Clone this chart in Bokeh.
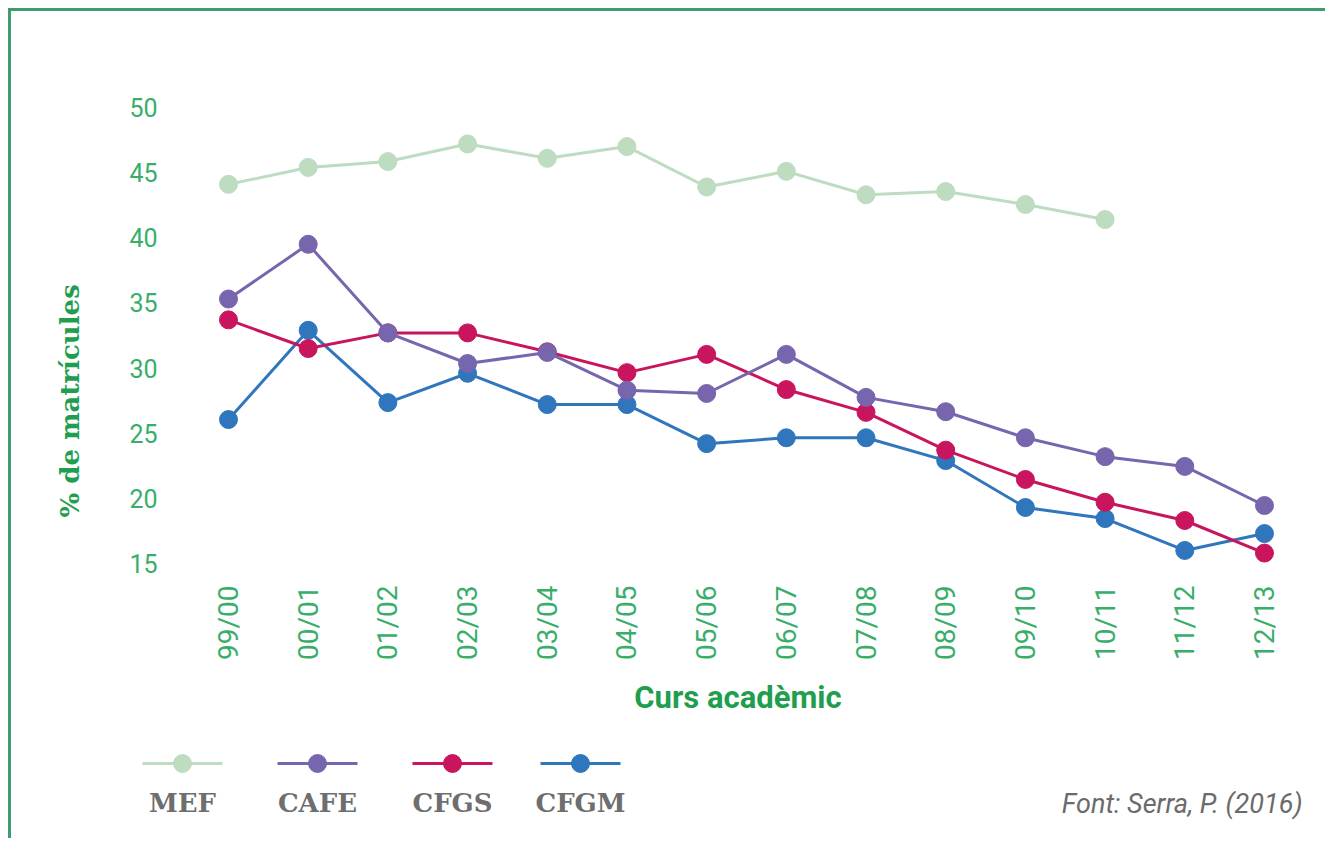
import math
from bokeh.plotting import figure
from bokeh.models import Range1d, FixedTicker, Title
from bokeh.embed import file_html
from bokeh.resources import INLINE
from bokeh.core.properties import value

# ---------------- data ----------------
courses = ["99/00", "00/01", "01/02", "02/03", "03/04", "04/05", "05/06",
           "06/07", "07/08", "08/09", "09/10", "10/11", "11/12", "12/13"]
mef = [44.1, 45.4, 45.85, 47.2, 46.1, 47.0, 43.9, 45.1, 43.3, 43.55, 42.55, 41.4]
cafe = [35.3, 39.5, 32.7, 30.35, 31.2, 28.3, 28.05, 31.05, 27.75, 26.65, 24.65, 23.2, 22.45, 19.45]
cfgs = [33.7, 31.5, 32.7, 32.7, 31.25, 29.65, 31.05, 28.35, 26.6, 23.7, 21.45, 19.7, 18.3, 15.8]
cfgm = [26.05, 32.9, 27.35, 29.6, 27.2, 27.2, 24.2, 24.65, 24.65, 22.9, 19.3, 18.45, 16.0, 17.3]
series_names = ["MEF", "CAFE", "CFGS", "CFGM"]
y_ticks = [15, 20, 25, 30, 35, 40, 45, 50]
x_title = "Curs acadèmic"
y_title = "% de matrícules"
source_note = "Font: Serra, P. (2016)"

# ---------------- styles ----------------
colors = {"MEF": "#bddcc0", "CAFE": "#7765ae", "CFGS": "#c8155e", "CFGM": "#2f76bd"}
values = {"MEF": mef, "CAFE": cafe, "CFGS": cfgs, "CFGM": cfgm}
draw_order = ["MEF", "CFGM", "CFGS", "CAFE"]
tick_color = "#38ae6a"
title_color = "#1f9e50"
frame_green = "#3f9c6c"

p = figure(width=1317, height=720,
           x_range=Range1d(-0.665, 13.452), y_range=Range1d(14.079, 53.607),
           output_backend="svg", toolbar_location=None,
           min_border_left=164, min_border_right=28,
           min_border_top=49, min_border_bottom=156)
p.margin = (8, 0, 0, 8)
p.styles = {"border-left": f"3px solid {frame_green}",
            "border-top": f"3px solid {frame_green}"}
p.title.visible = False
p.grid.visible = False
p.outline_line_color = None
p.background_fill_color = "white"
p.border_fill_color = "white"

for ax in (p.xaxis[0], p.yaxis[0]):
    ax.axis_line_color = None
    ax.major_tick_line_color = None
    ax.minor_tick_line_color = None
    ax.major_tick_out = 0
    ax.major_tick_in = 0
    ax.major_label_text_color = tick_color
    ax.major_label_text_font = "Roboto"

xa = p.xaxis[0]
xa.ticker = FixedTicker(ticks=list(range(len(courses))))
xa.major_label_overrides = {i: c for i, c in enumerate(courses)}
xa.major_label_orientation = math.pi / 2
xa.major_label_text_font_size = "28px"
xa.major_label_standoff = 10
xa.axis_label = x_title
xa.axis_label_text_font = "Roboto"
xa.axis_label_text_font_style = "bold"
xa.axis_label_text_font_size = "31px"
xa.axis_label_text_color = title_color
xa.axis_label_standoff = 16

ya = p.yaxis[0]
ya.ticker = FixedTicker(ticks=y_ticks)
ya.major_label_text_font_size = "25px"
ya.major_label_standoff = 18

ytitle = Title(text=y_title, align="left", offset=58, standoff=83,
               text_font="DejaVu Serif", text_font_style="bold",
               text_font_size="26px", text_color=title_color)
p.add_layout(ytitle, "left")

for name in draw_order:
    ys = values[name]
    xs = list(range(len(ys)))
    p.line(xs, ys, line_color=colors[name], line_width=3)
    p.scatter(xs, ys, size=18, fill_color=colors[name], line_color=colors[name])

# ---------------- legend / source strip ----------------
p2 = figure(width=1317, height=110,
            x_range=Range1d(0, 1317), y_range=Range1d(110, 0),
            output_backend="svg", toolbar_location=None,
            min_border=0, min_border_left=0, min_border_right=0,
            min_border_top=0, min_border_bottom=0)
p2.margin = (0, 0, 0, 8)
p2.styles = {"border-left": f"3px solid {frame_green}"}
p2.title.visible = False
p2.xaxis.visible = False
p2.yaxis.visible = False
p2.grid.visible = False
p2.outline_line_color = None

leg_x = [171, 306, 441, 569]
leg_line_y = 35
leg_text_y = 74
for name, cx in zip(series_names, leg_x):
    p2.segment(x0=[cx - 40], y0=[leg_line_y], x1=[cx + 40], y1=[leg_line_y],
               line_color=colors[name], line_width=3)
    p2.scatter([cx], [leg_line_y], size=18, fill_color=colors[name], line_color=colors[name])
    p2.text([cx], [leg_text_y], text=[name], text_align="center", text_baseline="middle",
            text_font=value("DejaVu Serif"), text_font_style="bold",
            text_font_size="26px", text_color="#6e6e6e")

p2.text([1291], [75], text=[source_note], text_align="right", text_baseline="middle",
        text_font=value("Roboto"), text_font_style="italic",
        text_font_size="27px", text_color="#6b6b6b")

open("out.html", "w").write(file_html([p, p2], INLINE))
